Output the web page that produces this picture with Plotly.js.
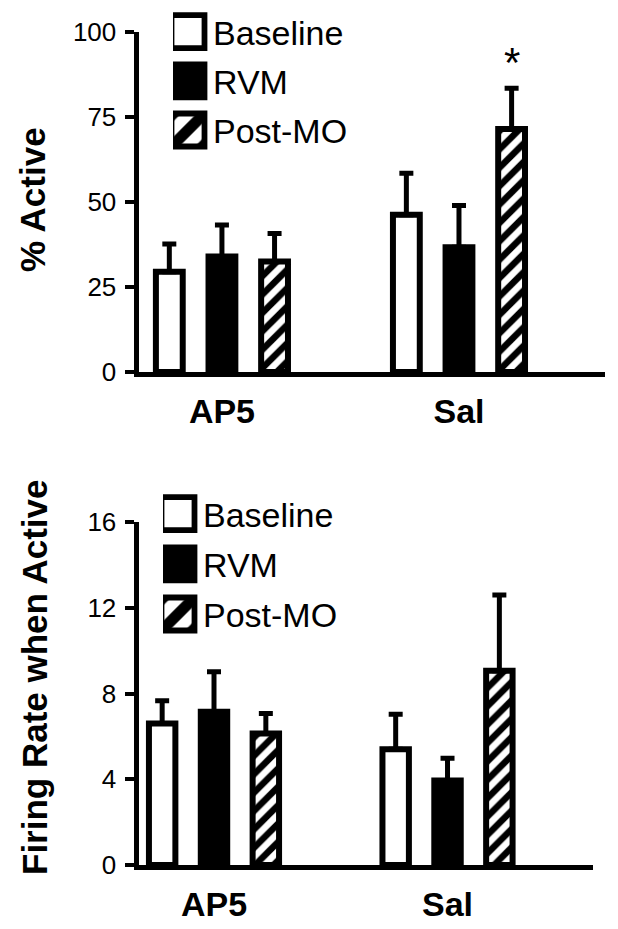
<!DOCTYPE html>
<html>
<head>
<meta charset="utf-8">
<script src="https://cdn.plot.ly/plotly-3.0.1.min.js"></script>
<style>
  html, body { margin: 0; padding: 0; background: #fff; }
  #chart { width: 618px; height: 929px; }
</style>
</head>
<body>
<div id="chart"></div>
<script>
// ---- data ----
const categories = ['AP5', 'Sal'];
const seriesNames = ['Baseline', 'RVM', 'Post-MO'];

// % Active (top panel)
const activeBaseline    = [29.5, 46.3];
const activeBaselineErr = [8.2, 12.2];
const activeRVM         = [34.0, 36.7];
const activeRVMErr      = [9.3, 12.3];
const activePostMO      = [32.5, 71.5];
const activePostMOErr   = [8.3, 12.0];

// Firing rate when active (bottom panel)
const rateBaseline    = [6.6, 5.4];
const rateBaselineErr = [1.06, 1.63];
const rateRVM         = [7.15, 3.94];
const rateRVMErr      = [1.87, 1.04];
const ratePostMO      = [6.13, 9.06];
const ratePostMOErr   = [0.94, 3.53];

const activeTicks = [0, 25, 50, 75, 100];
const rateTicks   = [0, 4, 8, 12, 16];

const activeTitle = '% Active';
const rateTitle = 'Firing Rate when Active';

// significance marker: Sal, Post-MO, top panel
const starLabel = '*';
const starY = 91;

// ---- styles ----
const FONT = 'Liberation Sans, Arial, Helvetica, sans-serif';
const W = 618, H = 929;
const BARGAP = 0.334, BARGROUPGAP = 0.49;
const styles = [
  { color: 'white', pattern: { shape: '' } },
  { color: 'black', pattern: { shape: '' } },
  { color: 'white', pattern: { shape: '/', fgcolor: 'black', bgcolor: 'white', size: 13, solidity: 0.5, fillmode: 'replace' } }
];

function mk(name, i, y, err, xa, ya, legendId) {
  return {
    type: 'bar', name: name, x: categories, y: y,
    xaxis: xa, yaxis: ya, legend: legendId, legendgroup: legendId + name,
    marker: { color: styles[i].color, pattern: styles[i].pattern, line: { color: 'black', width: 6 } },
    error_y: { type: 'data', symmetric: false, array: err, arrayminus: err.map(() => 0),
               color: 'black', thickness: 5, width: 7 },
    hoverinfo: 'skip'
  };
}

const data = [
  mk(seriesNames[0], 0, activeBaseline, activeBaselineErr, 'x', 'y', 'legend'),
  mk(seriesNames[1], 1, activeRVM, activeRVMErr, 'x', 'y', 'legend'),
  mk(seriesNames[2], 2, activePostMO, activePostMOErr, 'x', 'y', 'legend'),
  mk(seriesNames[0], 0, rateBaseline, rateBaselineErr, 'x2', 'y2', 'legend2'),
  mk(seriesNames[1], 1, rateRVM, rateRVMErr, 'x2', 'y2', 'legend2'),
  mk(seriesNames[2], 2, ratePostMO, ratePostMOErr, 'x2', 'y2', 'legend2')
];

const yAxisCommon = {
  showline: true, linewidth: 5, linecolor: 'black',
  ticks: 'outside', ticklen: 9, tickwidth: 4, tickcolor: 'black',
  showgrid: false, zeroline: false, fixedrange: true,
  tickfont: { size: 26, family: FONT, color: 'black' },
  ticklabelstandoff: 3
};
const xAxisCommon = {
  type: 'category', showline: true, linewidth: 5, linecolor: 'black',
  ticks: '', showgrid: false, zeroline: false, fixedrange: true,
  tickfont: { size: 34, family: FONT, color: 'black', weight: 'bold' },
  ticklabelstandoff: 5
};

const slot = (1 - BARGAP) / 3;
const titleFont = { size: 35, weight: 'bold', family: FONT, color: 'black' };

const layout = {
  width: W, height: H,
  margin: { l: 0, r: 0, t: 0, b: 0 },
  paper_bgcolor: 'white', plot_bgcolor: 'white',
  font: { family: FONT, color: 'black' },
  barmode: 'group', bargap: BARGAP, bargroupgap: BARGROUPGAP,
  xaxis: Object.assign({}, xAxisCommon, { domain: [138.5 / W, 605 / W], anchor: 'y', range: [-0.352, 1.616] }),
  yaxis: Object.assign({}, yAxisCommon, {
    domain: [1 - 372 / H, 1 - 32.3 / H], anchor: 'x', range: [0, 100], tickvals: activeTicks
  }),
  xaxis2: Object.assign({}, xAxisCommon, { domain: [138.5 / W, 593 / W], anchor: 'y2', range: [-0.3233, 1.623] }),
  yaxis2: Object.assign({}, yAxisCommon, {
    domain: [1 - 865 / H, 1 - 522 / H], anchor: 'x2', range: [0, 16], tickvals: rateTicks
  }),
  legend: {
    x: 173 / W, xanchor: 'left', y: 1 - 3 / H, yanchor: 'top',
    font: { size: 34, family: FONT, color: 'black' }, bgcolor: 'rgba(0,0,0,0)',
    tracegroupgap: 2, traceorder: 'grouped'
  },
  legend2: {
    x: 163 / W, xanchor: 'left', y: 1 - 485 / H, yanchor: 'top',
    font: { size: 34, family: FONT, color: 'black' }, bgcolor: 'rgba(0,0,0,0)',
    tracegroupgap: 3, traceorder: 'grouped'
  },
  annotations: [
    {
      xref: 'x', yref: 'y', x: categories.indexOf('Sal') + slot, y: starY,
      text: starLabel, showarrow: false, font: { size: 42, family: FONT, color: 'black' },
      xanchor: 'center', yanchor: 'middle'
    },
    {
      xref: 'paper', yref: 'paper', x: 33 / W, y: 1 - 200 / H, textangle: -90,
      text: activeTitle, showarrow: false, font: titleFont, xanchor: 'center', yanchor: 'middle'
    },
    {
      xref: 'paper', yref: 'paper', x: 34 / W, y: 1 - 678 / H, textangle: -90,
      text: rateTitle, showarrow: false, font: titleFont, xanchor: 'center', yanchor: 'middle'
    }
  ]
};

function enlargeLegendSymbols(gd) {
  gd.querySelectorAll('g.legendpoints path').forEach(p => {
    p.setAttribute('transform', 'translate(15,0) scale(2.75)');
    p.style.strokeWidth = '2.1px';
  });
}

Plotly.newPlot('chart', data, layout, { staticPlot: true, displayModeBar: false }).then(gd => {
  enlargeLegendSymbols(gd);
  gd.on('plotly_afterplot', () => enlargeLegendSymbols(gd));
});
</script>
</body>
</html>
